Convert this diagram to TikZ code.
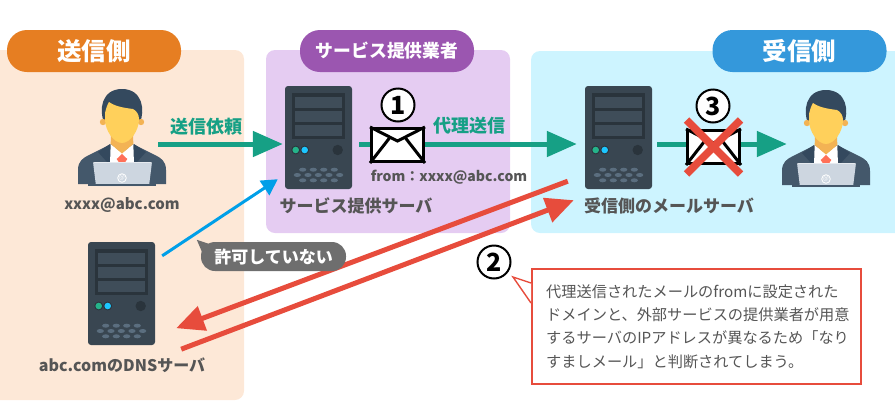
\documentclass[tikz,border=0pt]{standalone}
\usepackage{fontspec}
\setmainfont{Noto Sans CJK JP}
\usetikzlibrary{arrows.meta}
\definecolor{grayText}{HTML}{555555}
\definecolor{greenFlow}{HTML}{16A085}
\definecolor{redFlow}{HTML}{E74C3C}
\definecolor{blueFlow}{HTML}{009FE8}
\definecolor{srvBody}{HTML}{394651}
\definecolor{srvDark}{HTML}{2A343C}
\definecolor{srvSlot}{HTML}{3F4D59}
\definecolor{srvKey}{HTML}{5B6E7F}
\definecolor{srvGreen}{HTML}{25B38A}
\definecolor{srvBlue}{HTML}{1CC6FF}
\definecolor{suit}{HTML}{44586B}
\definecolor{hair}{HTML}{34495E}
\definecolor{skin}{HTML}{FFD05B}
\definecolor{skinDark}{HTML}{F3B354}
\definecolor{tie}{HTML}{FF7058}
\definecolor{laptop}{HTML}{CDD6E0}
\definecolor{bubble}{HTML}{6E6E6E}
\tikzset{
  panel/.style={rounded corners=9pt},
  pill/.style={rounded corners=20pt, text=white, font=\bfseries, minimum width=174pt, minimum height=42pt, inner sep=0pt},
  caption/.style={text=grayText, font=\bfseries\fontsize{16}{16}\selectfont, inner sep=0pt},
  flowlabel/.style={text=greenFlow, font=\bfseries\fontsize{18}{18}\selectfont, inner sep=0pt},
  greenflow/.style={line width=5pt, draw=greenFlow, -{Triangle[length=30pt,width=25pt,fill=greenFlow]}},
  redflow/.style={line width=5pt, draw=redFlow, -{Triangle[length=28pt,width=25pt,fill=redFlow]}},
  numbered/.style={circle, draw=black, line width=2pt, fill=white, minimum size=33pt, inner sep=0pt, font=\bfseries\fontsize{25}{25}\selectfont},
  letter/.style={draw=black, line width=3pt, fill=white, minimum width=52pt, minimum height=33pt, inner sep=0pt},
  slot/.style={fill=srvSlot},
  hold/.style={inner sep=0pt},
  server/.pic={
    \fill[srvBody, rounded corners=3pt] (0,0) rectangle (67,103);
    \fill[srvDark] (7,7) rectangle (60,53);
    \foreach \y/\yy in {11/21.7,25.3/35.7,39.3/50}
      \fill[slot] (10.3,\y) rectangle (57,\yy);
    \fill[srvDark] (10.7,64) circle (4.4pt) (19.7,64) circle (4.4pt) (52.7,64) circle (5.2pt);
    \fill[srvGreen] (10.7,64) circle (3.3pt);
    \fill[srvBlue] (19.7,64) circle (3.3pt);
    \foreach \x in {17.7,28.3,38.7,49.3}
      \fill[srvKey] (\x,83.7) ellipse (3.6pt and 2pt) (\x,94.3) ellipse (3.6pt and 2pt);
    \foreach \x in {12.3,23,33.3,44,54.7}
      \fill[srvKey] (\x,89) ellipse (3.6pt and 2pt);
  },
  person/.pic={
    % suit
    \fill[suit] (0,95) -- (0,81) .. controls (0,72) and (5,69) .. (11,66) -- (33,55) -- (55,55) -- (77,66) .. controls (83,69) and (88,72) .. (88,81) -- (88,95) -- cycle;
    \fill[hair] (32,55) -- (20,63) -- (29,73) -- (37,73) -- cycle (56,55) -- (68,63) -- (59,73) -- (51,73) -- cycle;
    \fill[white] (32.7,55) -- (44,64) -- (55.3,55) -- (56,75) -- (32,75) -- cycle;
    \fill[tie] (44,65) -- (49.3,70) -- (47,73.5) -- (41,73.5) -- (38.7,70) -- cycle;
    % neck, head
    \fill[skinDark] (33,40) -- (55,40) -- (55.3,55) -- (44,64.5) -- (32.7,55) -- cycle;
    \fill[hair] (26,33) .. controls (21,22) and (23,0) .. (44,0) .. controls (65,0) and (67,22) .. (62,33) -- cycle;
    \fill[skinDark] (25,33) circle (3.2pt) (63,33) circle (3.2pt);
    \fill[skin] (27,30) -- (27,24) .. controls (28,20) and (29,16) .. (31,13) .. controls (38,18) and (48,19) .. (55,20) .. controls (59,22) and (61,26) .. (61,30) .. controls (61,42) and (52,54) .. (44,54) .. controls (36,54) and (27,42) .. (27,30) -- cycle;
    % laptop
    \fill[laptop, rounded corners=1.5pt] (15,73) -- (74,73) -- (71,97) -- (18,97) -- cycle;
    \fill[suit] (10,95) rectangle (78,97);
    \fill[white, opacity=.5] (15,73) rectangle (74,74);
    \draw[white, line width=.8pt] (44,89) circle (4.3pt);
    \node[text=white, font=\fontsize{6}{6}\selectfont, inner sep=0pt] (atsign) at (44,89) {@};
  },
}
\begin{document}
\begin{tikzpicture}[x=1pt, y=-1pt, >=Latex]
    \useasboundingbox (0,0) rectangle (895,400);

    % areas
    \fill[panel, fill={rgb,255:red,253;green,232;blue,215}] (-12,50) rectangle (244,400);
    \fill[panel, fill={rgb,255:red,229;green,204;blue,242}] (266,50) rectangle (510,233);
    \fill[panel, fill={rgb,255:red,205;green,244;blue,255}] (531,51) rectangle (907,233);

    \node[pill, fill={rgb,255:red,230;green,126;blue,34}, font=\bfseries\fontsize{24.5}{25}\selectfont] (senderhead) at (94,51) {送信側};
    \node[pill, fill={rgb,255:red,155;green,86;blue,176}, font=\bfseries\fontsize{17.8}{18}\selectfont] (providerhead) at (387,51) {サービス提供業者};
    \node[pill, fill={rgb,255:red,52;green,152;blue,219}, font=\bfseries\fontsize{24.5}{25}\selectfont] (receiverhead) at (799.5,51) {受信側};

    % people and servers
    \pic at (78,89) {person};
    \pic at (782,90) {person};
    \pic at (285,86) {server};
    \pic at (585,86) {server};
    \pic at (88,242) {server};

    \node[hold, minimum width=88pt, minimum height=95pt] (sender) at (122,136.5) {};
    \node[hold, minimum width=88pt, minimum height=95pt] (receiver) at (826,137.5) {};
    \node[hold, minimum width=67pt, minimum height=103pt] (provsrv) at (318.5,137.5) {};
    \node[hold, minimum width=67pt, minimum height=103pt] (recvsrv) at (618.5,137.5) {};
    \node[hold, minimum width=67pt, minimum height=103pt] (dnssrv) at (121.5,293.5) {};

    % green flow
    \draw[greenflow] ([xshift=-8pt,yshift=-7.5pt]sender.east) -- ([xshift=-2pt,yshift=-6.5pt]provsrv.west);
    \draw[greenflow] ([xshift=7pt,yshift=-6.5pt]provsrv.east) -- ([xshift=-8pt,yshift=-6.5pt]recvsrv.west);
    \draw[greenflow] ([xshift=5pt,yshift=-6.5pt]recvsrv.east) -- ([xshift=5pt,yshift=-6.5pt]receiver.west);

    \node[flowlabel] (request) at (206,127) {送信依頼};
    \node[flowlabel] (proxy) at (469,126) {代理送信};

    % letters
    \node[letter] (mailone) at (397.5,145) {};
    \draw[black, line width=3pt] (mailone.north west) -- ([yshift=-14pt]mailone.north) -- (mailone.north east);
    \draw[black, line width=3pt] (mailone.south west) -- ([xshift=-8pt,yshift=-11pt]mailone.north) ([xshift=8pt,yshift=-11pt]mailone.north) -- (mailone.south east);
    \node[letter] (mailtwo) at (713.5,147) {};
    \draw[black, line width=3pt] (mailtwo.north west) -- ([yshift=-14pt]mailtwo.north) -- (mailtwo.north east);
    \draw[black, line width=3pt] (mailtwo.south west) -- ([xshift=-8pt,yshift=-11pt]mailtwo.north) ([xshift=8pt,yshift=-11pt]mailtwo.north) -- (mailtwo.south east);

    \node[numbered] (one) at (398,105) {1};
    \node[numbered] (three) at (713,106) {3};
    \node[numbered] (two) at (494,262) {2};

    % cross over the second letter
    \draw[redFlow, line width=7.5pt] ([xshift=-27pt,yshift=27pt]mailtwo.center) -- ([xshift=27pt,yshift=-27pt]mailtwo.center);
    \draw[redFlow, line width=7.5pt] ([xshift=-27pt,yshift=-27pt]mailtwo.center) -- ([xshift=27pt,yshift=27pt]mailtwo.center);

    % captions
    \node[caption, font=\bfseries\fontsize{15}{16}\selectfont] (senderaddr) at (122,205) {xxxx@abc.com};
    \node[caption, font=\bfseries\fontsize{14}{16}\selectfont] (fromaddr) at (449,177) {from：xxxx@abc.com};
    \node[caption, font=\bfseries\fontsize{17}{17}\selectfont] (provcap) at (356,206) {サービス提供サーバ};
    \node[caption, font=\bfseries\fontsize{17}{17}\selectfont] (recvcap) at (669,206) {受信側のメールサーバ};
    \node[caption] (dnscap) at (122,365) {abc.comのDNSサーバ};

    % dns check
    \draw[line width=3pt, blueFlow, -{Triangle[length=16pt,width=17pt,fill=blueFlow]}] ([xshift=7pt,yshift=-14pt]dnssrv.north east) -- ([xshift=-7pt,yshift=10pt]provsrv.south west);
    \draw[redflow] ([xshift=-17pt,yshift=8pt]recvsrv.south west) -- ([xshift=21pt,yshift=17pt]dnssrv.south east);
    \draw[redflow] ([xshift=26pt,yshift=-4pt]dnssrv.south east) -- ([xshift=-11pt,yshift=-11pt]recvsrv.south west);

    % speech bubble
    \node[rounded corners=14pt, fill=bubble, text=white, font=\bfseries\fontsize{17}{17}\selectfont, minimum width=145pt, minimum height=29pt, inner sep=0pt] (notallowed) at (273.5,256.5) {許可していない};
    \fill[bubble] ([xshift=-4pt,yshift=2pt]notallowed.north west) -- ([xshift=8pt,yshift=-2pt]notallowed.north west) -- ([xshift=2pt,yshift=-12pt]notallowed.north west) -- cycle;

    % note
    \node[draw=redFlow, line width=2pt, fill=white, minimum width=329pt, minimum height=115pt, inner sep=0pt] (note) at (696.5,326.5) {};
    \coordinate (notetip) at (513,277);
    \fill[white] (notetip) -- ([yshift=-15pt]note.north west) -- ([yshift=-35pt]note.north west) -- cycle;
    \draw[redFlow, line width=1.4pt] ([yshift=-15pt]note.north west) -- (notetip) -- ([yshift=-35pt]note.north west);
    \node[anchor=west, align=left, inner sep=0pt, text=grayText, font=\fontsize{15.2}{23.3}\selectfont] (notetext) at ([xshift=15pt]note.west) {代理送信されたメールのfromに設定された\\ドメインと、外部サービスの提供業者が用意\\するサーバのIPアドレスが異なるため「なり\\すましメール」と判断されてしまう。};
\end{tikzpicture}
\end{document}
